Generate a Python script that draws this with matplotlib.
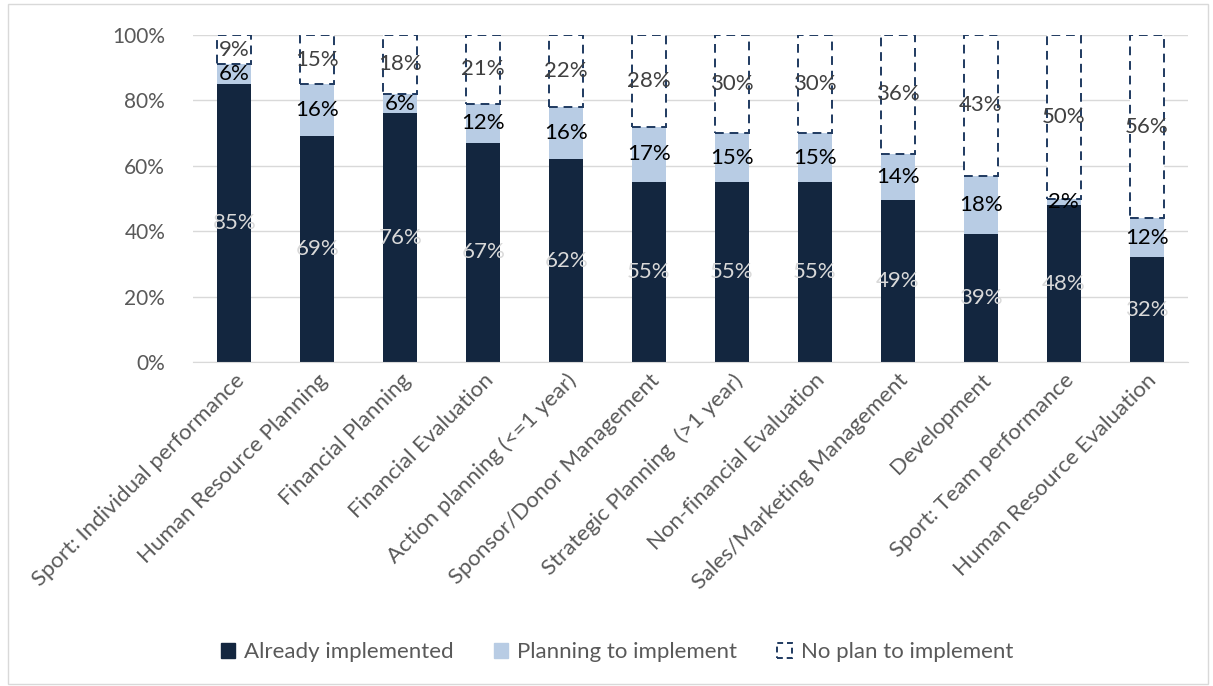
import matplotlib
matplotlib.use('Agg')
import matplotlib.pyplot as plt
from matplotlib.patches import Patch, Rectangle

# ----- Données -----
categories = ["Sport: Individual performance", "Human Resource Planning", "Financial Planning",
              "Financial Evaluation", "Action planning (<=1 year)", "Sponsor/Donor Management",
              "Strategic Planning  (>1 year)", "Non-financial Evaluation", "Sales/Marketing Management",
              "Development", "Sport: Team performance", "Human Resource Evaluation"]
already = [85, 69, 76, 67, 62, 55, 55, 55, 49.4, 39, 48, 32]
planning = [6, 16, 6, 12, 16, 17, 15, 15, 14.3, 18, 2, 12]
no_plan = [9, 15, 18, 21, 22, 28, 30, 30, 36.3, 43, 50, 56]
series_names = ["Already implemented", "Planning to implement", "No plan to implement"]

dark = '#13263f'
light = '#b8cce4'
edge = '#1f3a60'

plt.rcParams['font.family'] = ['Lato', 'DejaVu Sans']

fig = plt.figure(figsize=(12.13, 6.86), dpi=100)
ax = fig.add_axes([193 / 1213, 1 - 362 / 686, (1188 - 193) / 1213, (362 - 35) / 686])

x = list(range(len(categories)))
w = 0.41
bottom2 = [a for a in already]
bottom3 = [a + p for a, p in zip(already, planning)]

ax.bar(x, already, w, color=dark, zorder=2)
ax.bar(x, planning, w, bottom=bottom2, color=light, zorder=2)
ax.bar(x, no_plan, w, bottom=bottom3, facecolor='white', edgecolor=edge,
       linestyle=(0, (4.5, 3)), linewidth=1.4, zorder=2)

# étiquettes
for i in x:
    ax.text(i, already[i] / 2, f"{already[i]:.0f}%", ha='center', va='center',
            color='#d9d9d9', fontsize=16, zorder=3)
    ax.text(i, bottom2[i] + planning[i] / 2, f"{planning[i]:.0f}%", ha='center', va='center',
            color='black', fontsize=16, zorder=3)
    ax.text(i, bottom3[i] + no_plan[i] / 2, f"{no_plan[i]:.0f}%", ha='center', va='center',
            color='#404040', fontsize=16, zorder=3)

ax.set_xlim(-0.5, len(categories) - 0.5)
ax.set_ylim(0, 100)
ax.set_yticks(range(0, 101, 20))
ax.set_yticklabels([f"{v}%" for v in range(0, 101, 20)], color='#595959', fontsize=15)
ax.yaxis.grid(True, color='#d9d9d9', linewidth=1, zorder=0)
ax.tick_params(axis='y', length=0, pad=20)
ax.tick_params(axis='x', length=0, pad=6)
ax.set_xticks(x)
ax.set_xticklabels(categories, rotation=45, ha='right', rotation_mode='anchor',
                   color='#595959', fontsize=16)
for s in ['top', 'right', 'left']:
    ax.spines[s].set_visible(False)
ax.spines['bottom'].set_color('#d9d9d9')

handles = [Patch(facecolor=dark, edgecolor=dark),
           Patch(facecolor=light, edgecolor=light),
           Patch(facecolor='white', edgecolor=edge, linestyle=(0, (3, 2)), linewidth=1.4)]
fig.legend(handles, series_names, loc='center', bbox_to_anchor=(617 / 1213, 1 - 652 / 686),
           ncol=3, frameon=False, fontsize=16, handlelength=0.65, handleheight=0.65,
           columnspacing=1.8, handletextpad=0.4, labelcolor='#595959')

# cadre du graphique
fig.patches.append(Rectangle((8 / 1213, 2 / 686), 1200 / 1213, 680 / 686, transform=fig.transFigure,
                             fill=False, edgecolor='#d9d9d9', linewidth=1))

fig.savefig('out.png', dpi=100)
